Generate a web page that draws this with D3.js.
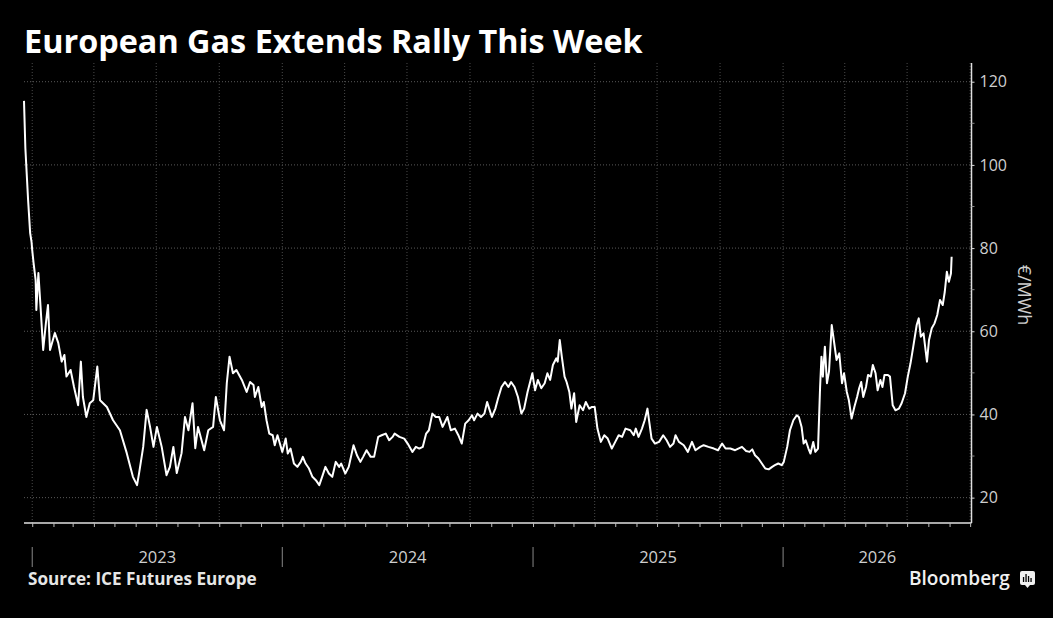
<!DOCTYPE html>
<html><head><meta charset="utf-8">
<script src="https://cdn.jsdelivr.net/npm/d3@7"></script>
<style>html,body{margin:0;padding:0;background:#000;} svg{display:block;}</style>
</head><body>
<svg id="chart" width="1053" height="618"></svg>
<script>
const dates = [
"2022-12-20","2022-12-22","2022-12-26","2022-12-29","2022-12-31",
"2023-01-01","2023-01-03","2023-01-06","2023-01-07","2023-01-10","2023-01-13","2023-01-17","2023-01-21","2023-01-24","2023-01-27",
"2023-02-03","2023-02-08","2023-02-13","2023-02-17","2023-02-20","2023-02-26",
"2023-03-03","2023-03-09","2023-03-13","2023-03-16","2023-03-21","2023-03-26","2023-03-31",
"2023-04-06","2023-04-10","2023-04-20","2023-04-29",
"2023-05-09","2023-05-19","2023-05-28",
"2023-06-03","2023-06-06","2023-06-12","2023-06-17","2023-06-22","2023-06-27",
"2023-07-02","2023-07-09","2023-07-16","2023-07-21","2023-07-26","2023-07-31",
"2023-08-07","2023-08-12","2023-08-17","2023-08-23","2023-08-27","2023-08-31",
"2023-09-09","2023-09-15","2023-09-22","2023-09-26",
"2023-10-02","2023-10-08","2023-10-12","2023-10-16","2023-10-21","2023-10-26",
"2023-11-03","2023-11-10","2023-11-15","2023-11-20","2023-11-22","2023-11-27",
"2023-12-02","2023-12-05","2023-12-09","2023-12-13","2023-12-18","2023-12-21","2023-12-25",
"2024-01-01","2024-01-06","2024-01-09","2024-01-13","2024-01-18","2024-01-23","2024-01-28","2024-01-31",
"2024-02-04","2024-02-09","2024-02-14","2024-02-19","2024-02-24","2024-02-29",
"2024-03-04","2024-03-09","2024-03-14","2024-03-19","2024-03-24","2024-03-27",
"2024-04-02","2024-04-07","2024-04-14","2024-04-19","2024-04-24","2024-04-28",
"2024-05-03","2024-05-09","2024-05-14","2024-05-20","2024-05-25","2024-05-31",
"2024-06-05","2024-06-10","2024-06-13","2024-06-20","2024-06-27",
"2024-07-02","2024-07-09","2024-07-14","2024-07-19","2024-07-24","2024-07-29",
"2024-08-02","2024-08-07","2024-08-12","2024-08-17","2024-08-22","2024-08-29",
"2024-09-03","2024-09-09","2024-09-14","2024-09-19","2024-09-24","2024-09-29",
"2024-10-04","2024-10-07","2024-10-12","2024-10-17","2024-10-22","2024-10-26","2024-10-29",
"2024-11-02","2024-11-07","2024-11-11","2024-11-16","2024-11-21","2024-11-26","2024-11-30",
"2024-12-05","2024-12-10","2024-12-15","2024-12-19","2024-12-24","2024-12-31",
"2025-01-04","2025-01-08","2025-01-13","2025-01-18","2025-01-22","2025-01-26","2025-01-30",
"2025-02-04","2025-02-06","2025-02-09","2025-02-12","2025-02-16","2025-02-19","2025-02-23","2025-02-26",
"2025-03-02","2025-03-05","2025-03-10","2025-03-15","2025-03-19","2025-03-24","2025-03-28",
"2025-04-01","2025-04-05","2025-04-10","2025-04-15","2025-04-20","2025-04-26",
"2025-05-01","2025-05-06","2025-05-11","2025-05-16","2025-05-23","2025-05-28","2025-05-31",
"2025-06-04","2025-06-09","2025-06-13","2025-06-17","2025-06-20","2025-06-23","2025-06-28",
"2025-07-04","2025-07-10","2025-07-15","2025-07-20","2025-07-25","2025-07-28",
"2025-08-02","2025-08-09","2025-08-15","2025-08-21","2025-08-26",
"2025-09-02","2025-09-07","2025-09-14","2025-09-22","2025-09-28",
"2025-10-04","2025-10-09","2025-10-16","2025-10-23",
"2025-11-02","2025-11-08","2025-11-13","2025-11-17","2025-11-21","2025-11-26",
"2025-12-01","2025-12-06","2025-12-11","2025-12-16","2025-12-20","2025-12-25","2025-12-30",
"2026-01-02","2026-01-07","2026-01-11","2026-01-16","2026-01-21","2026-01-24","2026-01-28","2026-01-31",
"2026-02-03","2026-02-07","2026-02-10","2026-02-14","2026-02-17","2026-02-21","2026-02-24","2026-02-26","2026-02-28",
"2026-03-03","2026-03-06","2026-03-09","2026-03-13","2026-03-16","2026-03-20","2026-03-24","2026-03-28","2026-03-31",
"2026-04-04","2026-04-07","2026-04-11","2026-04-15","2026-04-19","2026-04-22","2026-04-25","2026-04-28",
"2026-05-02","2026-05-05","2026-05-09","2026-05-12","2026-05-16","2026-05-19","2026-05-23","2026-05-26","2026-05-29",
"2026-06-03","2026-06-06","2026-06-10","2026-06-14","2026-06-19","2026-06-23","2026-06-28",
"2026-07-02","2026-07-06","2026-07-10","2026-07-15","2026-07-18","2026-07-21","2026-07-25","2026-07-30",
"2026-08-02","2026-08-06","2026-08-10","2026-08-14","2026-08-18","2026-08-22","2026-08-25","2026-08-28","2026-08-31",
"2026-09-03","2026-09-04"
];
const prices = [
115.4,104,91.5,83.6,81.5,
79.5,76.4,72.3,65.1,74,66.3,55.5,62,66.3,55.5,
59.6,57.2,52.7,54.3,49.1,50.7,
46.6,42.2,52.7,44.2,39.4,42.7,43.4,
51.5,43.4,41.8,38.6,
36.2,30.7,25,
23,25.9,32.2,41.1,37,32.2,
37,32.2,25.4,27.4,32.2,25.9,
30.7,39.4,36.2,42.7,31.9,37,
31.4,36.2,37,44.2,
38.6,36.2,47.5,53.9,49.9,50.7,
48.3,45.4,47.8,47.1,44.2,46.6,
41.8,43,38.6,35.4,35,32.6,35,
31,34.2,30.6,31.8,28.2,27.4,28.6,29.8,
28.2,27,25,24.2,23,25.4,
27.4,25.8,25,28.6,27.4,28.2,
25.8,27.4,32.6,30.2,28.6,29.8,
31.4,29.8,29.8,34.6,35,35.4,
33.8,34.6,35.4,34.6,34.2,
33,31,32.2,31.8,32.2,35.4,
36.2,40.2,39.4,39.4,37,39.4,
36.2,36.6,35,33,37.8,38.6,
39.8,38.6,40.2,39.4,40.2,43,41.4,
39.4,41.4,43.9,46.6,47.8,46.6,47.8,
46.6,44.2,40.2,41.4,45.4,49.9,
45.8,48.3,46.3,47.5,49.9,48.3,51.9,
53.5,52.7,57.9,53.9,49.1,47.8,45.4,41.4,
45.1,38.2,42.2,41,43,41.4,41.8,
41.8,36.6,33.4,35,34.2,31.8,
33.4,35,34.6,36.6,36.2,35,36.6,
34.6,36.6,38.6,41.4,37.8,34.2,33,
33.4,35,33.8,32.2,33,35,
33.4,32.6,31,33.4,31.4,
32.2,32.6,32.2,31.8,31.4,
33,31.8,31.8,31.4,
32.2,31.2,31,31.6,30.2,29.4,
28.2,27,26.8,27.4,27.8,28.2,27.8,
28.6,32.2,36.2,38.6,39.8,39.4,37,33,
33.8,31.8,30.6,33.4,31,31.8,46.6,53.9,49.1,
56.3,47.5,50.3,61.5,57.9,53.1,54.7,47.5,49.9,
45.4,43.4,39,41.8,44.2,46.3,47.8,44.2,
46.6,49.5,49.1,51.9,49.9,45.8,48.3,46.6,49.5,
49.5,49.1,42.2,41,41.4,42.7,45.1,
49.1,52.3,56.3,61.5,63.1,58.7,59.5,52.7,
57.9,60.7,61.9,63.9,67.5,66.3,69.5,74.3,71.9,
73.9,77.9
];
const yTicks = [20, 40, 60, 80, 100, 120];
const yMinorTicks = [30, 50, 70, 90, 110];
const yearLabels = ["2023", "2024", "2025", "2026"];
const titleText = "European Gas Extends Rally This Week";
const unitText = "€/MWh";
const sourceText = "Source: ICE Futures Europe";
const brandText = "Bloomberg";

const svg = d3.select("#chart");
svg.append("rect").attr("width", 1053).attr("height", 618).attr("fill", "#000");

const parse = d3.timeParse("%Y-%m-%d");
const data = dates.map((d, i) => ({date: parse(d), value: prices[i]}));
const L = 24, R = 971.5, T = 63, B = 523;
const xStart = parse("2022-12-20"), xEnd = parse("2026-10-03");
const x = d3.scaleTime().domain([xStart, xEnd]).range([L, R]);
const y = d3.scaleLinear().domain([13.9, 124.5]).range([B, T]);

// grid
const grid = svg.append("g");
grid.selectAll("line.h").data(yTicks).join("line")
  .attr("x1", L).attr("x2", R).attr("y1", d => y(d)).attr("y2", d => y(d))
  .attr("stroke", "#5a5a5a").attr("stroke-width", 1).attr("stroke-dasharray", "1,2");
const quarters = d3.timeMonth.every(3).range(xStart, xEnd);
grid.selectAll("line.v").data(quarters).join("line")
  .attr("x1", d => x(d)).attr("x2", d => x(d)).attr("y1", T).attr("y2", B)
  .attr("stroke", "#4a4a4a").attr("stroke-width", 1).attr("stroke-dasharray", "1,2");

// bottom axis
const months = d3.timeMonth.every(1).range(xStart, xEnd);
const xAxis = d3.axisBottom(x).tickValues(months).tickSize(4).tickFormat("");
const gx = svg.append("g").attr("transform", `translate(0,${B})`).call(xAxis);
gx.select(".domain").attr("stroke", "#e0e0e0").attr("stroke-width", 1.5).attr("d", `M${L},0H${R}`);
gx.selectAll(".tick line").attr("stroke", "#bbb");

// year separators and labels
const yearStarts = yearLabels.map(yl => parse(yl + "-01-01"));
svg.selectAll("line.ysep").data(yearStarts).join("line")
  .attr("x1", d => x(d)).attr("x2", d => x(d)).attr("y1", 547).attr("y2", 567)
  .attr("stroke", "#888").attr("stroke-width", 1);
svg.selectAll("text.year").data(yearLabels).join("text")
  .attr("x", yl => {
    const s = parse(yl + "-01-01"), e = parse((+yl + 1) + "-01-01");
    const a = x(s < xStart ? xStart : s), b = x(e > xEnd ? xEnd : e);
    return (a + b) / 2;
  })
  .attr("y", 563).attr("text-anchor", "middle")
  .attr("font-family", "'Open Sans', sans-serif").attr("font-size", 16.5)
  .attr("fill", "#cfcfcf").text(d => d);

// right axis
const yAxis = d3.axisRight(y).tickValues(yTicks).tickSize(3).tickPadding(5);
const gy = svg.append("g").attr("transform", `translate(${R},0)`).call(yAxis);
gy.select(".domain").attr("stroke", "#e0e0e0").attr("stroke-width", 1.5).attr("d", `M0,${T}V${B}`);
gy.selectAll(".tick line").attr("stroke", "#ddd");
gy.selectAll(".tick text").attr("font-family", "'Open Sans', sans-serif").attr("font-size", 16)
  .attr("fill", "#cfcfcf");
svg.selectAll("line.ymin").data(yMinorTicks).join("line")
  .attr("x1", R).attr("x2", R + 3).attr("y1", d => y(d)).attr("y2", d => y(d))
  .attr("stroke", "#888");

// unit label
svg.append("text").attr("transform", "translate(1018,295) rotate(90)")
  .attr("text-anchor", "middle")
  .attr("font-family", "'Open Sans', sans-serif").attr("font-size", 18)
  .attr("fill", "#cfcfcf").text(unitText);

// line
const line = d3.line().x(d => x(d.date)).y(d => y(d.value));
svg.append("path").datum(data).attr("d", line)
  .attr("fill", "none").attr("stroke", "#fff").attr("stroke-width", 2)
  .attr("stroke-linejoin", "round");

// title
const title = svg.append("text").attr("x", 24).attr("y", 53)
  .attr("font-family", "'Open Sans', sans-serif").attr("font-weight", 700)
  .attr("font-size", 30).attr("fill", "#fff").text(titleText);
const tw = title.node().getComputedTextLength();
title.attr("font-size", 30 * 619 / tw);

// source
const src = svg.append("text").attr("x", 28).attr("y", 585)
  .attr("font-family", "'Open Sans', sans-serif").attr("font-weight", 700)
  .attr("font-size", 14).attr("fill", "#e6e6e6").text(sourceText);
const sw = src.node().getComputedTextLength();
src.attr("font-size", 14 * 229 / sw);

// brand
const brand = svg.append("text").attr("x", 909).attr("y", 585)
  .attr("font-family", "'Open Sans', sans-serif").attr("font-weight", 600)
  .attr("font-size", 17).attr("fill", "#f0f0f0").text(brandText);
const bw = brand.node().getComputedTextLength();
brand.attr("font-size", 17 * 101 / bw);

const icon = svg.append("g").attr("transform", "translate(1020,571)");
icon.append("rect").attr("width", 15).attr("height", 14).attr("rx", 2).attr("fill", "#f0f0f0");
icon.append("path").attr("d", "M5,14 L7.5,17 L10,14 Z").attr("fill", "#f0f0f0");
[[3.5,6],[6,3],[8.5,5],[11,7]].forEach(([bx, bt]) => {
  icon.append("rect").attr("x", bx - 0.6).attr("y", bt).attr("width", 1.3).attr("height", 11 - bt).attr("fill", "#000");
});
</script>
</body></html>
